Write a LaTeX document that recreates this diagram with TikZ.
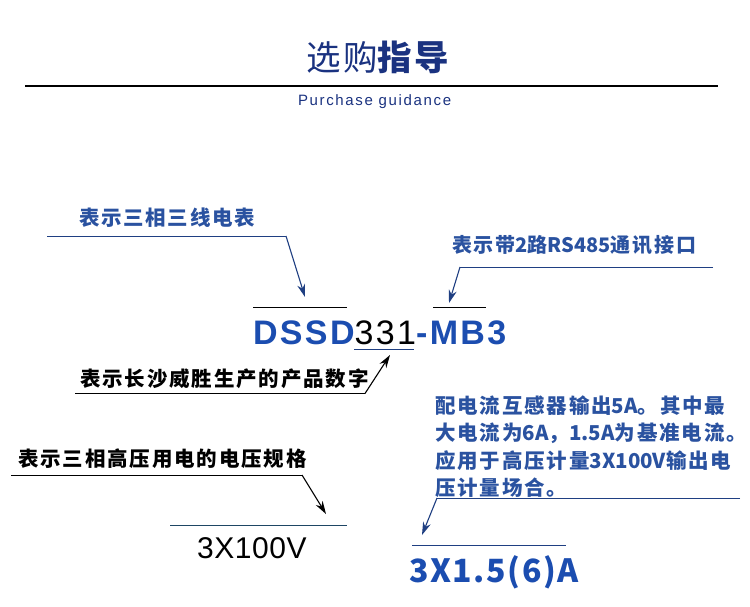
\documentclass[tikz,border=0pt]{standalone}
\usepackage{fontspec}
\usetikzlibrary{arrows.meta}
\setmainfont{Liberation Sans}
\newfontfamily\cjk{Noto Sans CJK SC}
\newfontfamily\arial{Liberation Sans}
\newcommand\latn[1]{{\cjk\bfseries #1}}
\definecolor{titleblue}{RGB}{26,50,128}
\definecolor{annblue}{RGB}{42,82,160}
\definecolor{codeblue}{RGB}{27,77,176}
\definecolor{lineblue}{RGB}{31,63,130}
\definecolor{linegray}{RGB}{30,70,100}
\tikzset{
  txt/.style={inner sep=0pt, outer sep=0pt, anchor=base west},
  anntext/.style={txt, font={\cjk\bfseries\fontsize{20.5}{20.5}\selectfont\addfontfeatures{LetterSpace=9}}},
  rule/.style={line width=1pt},
  arr/.style={line width=1.1pt, -{Stealth[length=13pt,width=8pt]}},
}
\begin{document}
\begin{tikzpicture}[x=1pt,y=-1pt]
\useasboundingbox (0,0) rectangle (750,606);
\fill[white] (0,0) rectangle (750,606);

% title
\node[txt, text=titleblue, font={\cjk\fontsize{34.5}{34.5}\selectfont\addfontfeatures{LetterSpace=8}}] (title) at (306,70) {选购{\bfseries 指导}};
\coordinate (hl) at (25,86);
\coordinate (hr) at (718,86);
\draw[line width=1.2pt] (hl) -- (hr);
\node[txt, text=titleblue, font={\arial\fontsize{15}{15}\selectfont\addfontfeatures{LetterSpace=11}}] (sub) at (298,105) {Purchase guidance};

% product code
\node[txt, font={\arial\fontsize{34}{34}\selectfont\addfontfeatures{LetterSpace=7}}] (code) at (253,344) {\textcolor{codeblue}{\bfseries DSSD}331\textcolor{codeblue}{\bfseries -MB3}};

% annotation 1
\node[txt, text=annblue, font={\cjk\bfseries\fontsize{20.5}{20.5}\selectfont\addfontfeatures{LetterSpace=8.5}}] (a1) at (79,225) {表示三相三线电表};
\coordinate (a1l) at (47,236);
\coordinate (a1r) at (286,236);
\coordinate (a1t) at (305,297);
\draw[line width=1pt, lineblue] (a1l) -- (a1r);
\draw[arr, lineblue] (a1r) -- (a1t);
\coordinate (o1l) at (253,307.5);
\coordinate (o1r) at (347,307.5);
\draw[rule] (o1l) -- (o1r);

% annotation 2
\node[txt, text=annblue, font={\cjk\bfseries\fontsize{20}{20}\selectfont\addfontfeatures{LetterSpace=9}}] (a2) at (452,252.5) {表示带\latn{2}路\latn{RS485}通讯接口};
\coordinate (a2l) at (460,267);
\coordinate (a2r) at (713,267);
\coordinate (a2t) at (449,303);
\draw[line width=1pt, lineblue] (a2r) -- (a2l);
\draw[arr, lineblue] (a2l) -- (a2t);
\coordinate (o2l) at (433,307.5);
\coordinate (o2r) at (486,307.5);
\draw[rule] (o2l) -- (o2r);

% annotation 3
\coordinate (u3l) at (354,349);
\coordinate (u3r) at (414,349);
\draw[line width=1pt, lineblue] (u3l) -- (u3r);
\node[anntext] (a3) at (80,386) {表示长沙威胜生产的产品数字};
\coordinate (a3l) at (75,393.5);
\coordinate (a3r) at (365,393.5);
\coordinate (a3t) at (390,355);
\draw[line width=1pt] (a3l) -- (a3r);
\draw[arr] (a3r) -- (a3t);

% annotation 4
\node[anntext] (a4) at (18,466) {表示三相高压用电的电压规格};
\coordinate (a4l) at (11,475);
\coordinate (a4r) at (302,475);
\coordinate (a4t) at (326,514);
\draw[line width=1pt] (a4l) -- (a4r);
\draw[arr] (a4r) -- (a4t);
\coordinate (o4l) at (170,525);
\coordinate (o4r) at (347,525);
\draw[line width=1pt, linegray] (o4l) -- (o4r);
\node[txt, font={\arial\fontsize{30}{30}\selectfont\addfontfeatures{LetterSpace=2}}] (v) at (197,558) {3X100V};

% annotation 5
\node[anntext, text=annblue] (r1) at (435,413) {配电流互感器输出\latn{5A}。其中最};
\node[anntext, text=annblue] (r2) at (435,440.5) {大电流为\latn{6A}，\latn{1.5A}为基准电流。};
\node[anntext, text=annblue] (r3) at (435,468) {应用于高压计量\latn{3X100V}输出电};
\node[anntext, text=annblue] (r4) at (435,495) {压计量场合。};
\coordinate (a5r) at (740,498);
\coordinate (a5l) at (437,498);
\coordinate (a5t) at (422,535);
\draw[line width=1pt, lineblue] (a5r) -- (a5l);
\draw[arr, lineblue] (a5l) -- (a5t);
\coordinate (o5l) at (412,545);
\coordinate (o5r) at (566,545);
\draw[line width=1pt, lineblue] (o5l) -- (o5r);
\node[txt, text=codeblue, font={\cjk\bfseries\fontsize{32}{32}\selectfont\addfontfeatures{LetterSpace=5}}] (amp) at (409,582) {3X1.5(6)A};
\end{tikzpicture}
\end{document}
